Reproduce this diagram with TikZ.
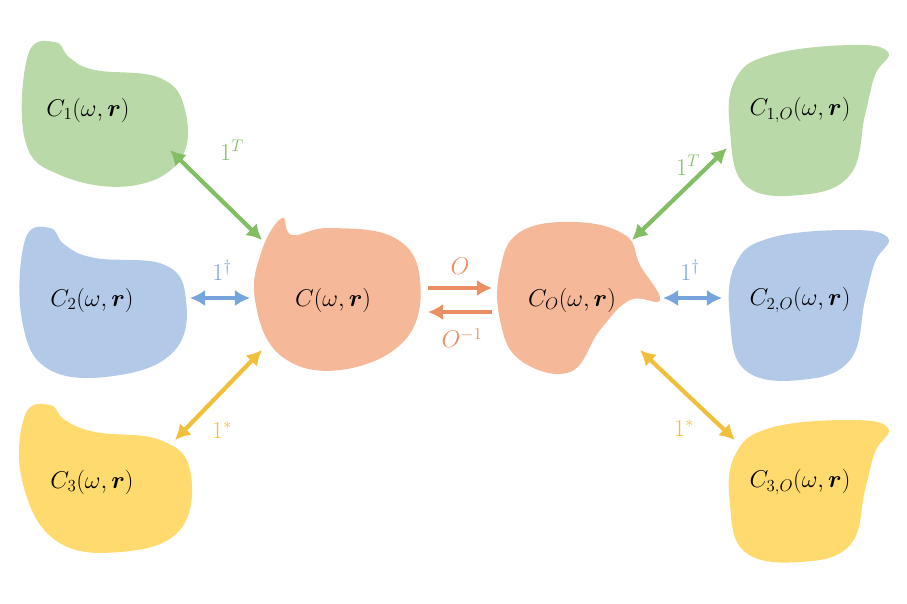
\documentclass[tikz,border=0pt]{standalone}
\usepackage{amsmath}
\usetikzlibrary{arrows.meta}
\definecolor{gfill}{RGB}{186,217,168}
\definecolor{garr}{RGB}{132,190,100}
\definecolor{bfill}{RGB}{178,201,232}
\definecolor{barr}{RGB}{118,164,220}
\definecolor{yfill}{RGB}{255,218,110}
\definecolor{yarr}{RGB}{240,192,60}
\definecolor{ofill}{RGB}{245,184,152}
\definecolor{oarr}{RGB}{236,142,100}
\tikzset{
  blob/.style = {draw = none, fill = #1},
  lab/.style = {font = \fontsize{21}{25}\selectfont},
  dbl/.style = {draw = #1, line width = 3.6pt, {Latex[length=13pt,width=14pt]}-{Latex[length=13pt,width=14pt]}},
  sgl/.style = {draw = #1, line width = 3.6pt, -{Latex[length=13pt,width=14pt]}},
}
\begin{document}
\begin{tikzpicture}[x=0.03cm, y=-0.03cm]
\useasboundingbox (0,0) rectangle (907,603);
% left blobs
\fill[blob=gfill] plot[smooth cycle, tension=0.7] coordinates {(28,55) (55,42) (70,58) (95,70) (160,78) (185,110) (180,160) (130,186) (60,175) (25,140)};
\fill[blob=bfill] plot[smooth cycle, tension=0.7] coordinates {(25,240) (50,228) (65,245) (95,258) (165,265) (186,300) (175,350) (120,375) (50,370) (22,320)};
\fill[blob=yfill] plot[smooth cycle, tension=0.7] coordinates {(25,415) (50,405) (65,420) (95,432) (160,440) (190,470) (180,530) (120,552) (55,540) (22,480)};
% centre blobs
\fill[blob=ofill] plot[smooth cycle, tension=0.7] coordinates {(262,250) (282,218) (292,235) (330,228) (395,238) (420,280) (405,340) (340,370) (280,355) (255,300)};
\fill[blob=ofill] plot[smooth cycle, tension=0.7] coordinates {(500,270) (520,232) (575,222) (625,235) (640,265) (660,300) (630,300) (600,330) (570,372) (520,360) (500,320)};
% right blobs
\fill[blob=gfill] plot[smooth cycle, tension=0.7] coordinates {(735,80) (770,55) (850,45) (888,52) (875,75) (865,115) (850,175) (800,195) (745,185) (730,130)};
\fill[blob=bfill] plot[smooth cycle, tension=0.7] coordinates {(735,265) (770,238) (850,230) (888,238) (875,262) (865,300) (850,360) (800,380) (745,370) (730,320)};
\fill[blob=yfill] plot[smooth cycle, tension=0.7] coordinates {(735,455) (770,428) (850,420) (888,428) (875,452) (865,490) (850,545) (800,562) (745,552) (730,505)};
% labels
\node[lab] (c1) at (88,110) {$C_1(\omega,\boldsymbol{r})$};
\node[lab] (c2) at (92,300) {$C_2(\omega,\boldsymbol{r})$};
\node[lab] (c3) at (92,482) {$C_3(\omega,\boldsymbol{r})$};
\node[lab] (c) at (333,300) {$C(\omega,\boldsymbol{r})$};
\node[lab] (co) at (572,300) {$C_O(\omega,\boldsymbol{r})$};
\node[lab] (c1o) at (800,110) {$C_{1,O}(\omega,\boldsymbol{r})$};
\node[lab] (c2o) at (800,300) {$C_{2,O}(\omega,\boldsymbol{r})$};
\node[lab] (c3o) at (800,482) {$C_{3,O}(\omega,\boldsymbol{r})$};
% arrow ends
\coordinate (g1) at (170,150); \coordinate (g2) at (262,240);
\coordinate (b1) at (190,298); \coordinate (b2) at (250,298);
\coordinate (y1) at (262,350); \coordinate (y2) at (175,440);
\coordinate (o1) at (428,288); \coordinate (o2) at (492,288);
\coordinate (o3) at (492,312); \coordinate (o4) at (428,312);
\coordinate (g3) at (632,240); \coordinate (g4) at (727,148);
\coordinate (b3) at (663,298); \coordinate (b4) at (722,298);
\coordinate (y3) at (640,350); \coordinate (y4) at (735,440);
\draw[dbl=garr] (g1) -- (g2);
\draw[dbl=barr] (b1) -- (b2);
\draw[dbl=yarr] (y1) -- (y2);
\draw[sgl=oarr] (o1) -- (o2);
\draw[sgl=oarr] (o3) -- (o4);
\draw[dbl=garr] (g3) -- (g4);
\draw[dbl=barr] (b3) -- (b4);
\draw[dbl=yarr] (y3) -- (y4);
\node[lab, text=garr] (tg1) at (232,150) {$1^T$};
\node[lab, text=barr] (tb1) at (222,270) {$1^\dagger$};
\node[lab, text=yarr] (ty1) at (222,430) {$1^*$};
\node[lab, text=oarr] (to1) at (460,266) {$O$};
\node[lab, text=oarr] (to2) at (462,338) {$O^{-1}$};
\node[lab, text=garr] (tg2) at (688,165) {$1^T$};
\node[lab, text=barr] (tb2) at (690,270) {$1^\dagger$};
\node[lab, text=yarr] (ty2) at (684,428) {$1^*$};
\end{tikzpicture}
\end{document}
